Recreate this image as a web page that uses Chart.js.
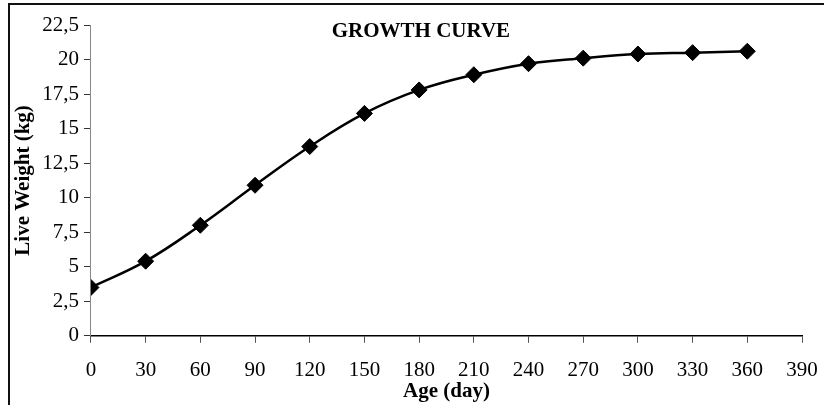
<!DOCTYPE html>
<html>
<head>
<meta charset="utf-8">
<script src="https://cdn.jsdelivr.net/npm/chart.js@4.4.1/dist/chart.umd.min.js"></script>
<style>
  html, body { margin: 0; padding: 0; background: #fff; overflow: hidden; }
  #wrap { position: relative; width: 824px; height: 405px; overflow: hidden; }
  #frame { position: absolute; left: 8px; top: 3px; width: 900px; height: 600px;
           border-top: 2px solid #111; border-left: 2px solid #111; }
  #myChart { position: absolute; left: 0; top: 0; }
</style>
</head>
<body>
<div id="wrap">
  <div id="frame"></div>
  <canvas id="myChart" width="824" height="405"></canvas>
</div>
<script>
// age in days and live weight in kg
var ages = [0, 30, 60, 90, 120, 150, 180, 210, 240, 270, 300, 330, 360];
var weights = [3.5, 5.4, 8.0, 10.9, 13.7, 16.1, 17.8, 18.9, 19.7, 20.1, 20.4, 20.5, 20.6];

var chartTitle = 'GROWTH CURVE';
var xTitle = 'Age (day)';
var yTitle = 'Live Weight (kg)';

var serif = "'Liberation Serif', 'Times New Roman', serif";

// title sits inside the plot, not above it
var titlePlugin = {
  id: 'innerTitle',
  afterDraw: function(chart) {
    var ctx = chart.ctx;
    var xs = chart.scales.x;
    ctx.save();
    ctx.font = 'bold 21px ' + serif;
    ctx.fillStyle = '#000';
    ctx.textAlign = 'center';
    ctx.textBaseline = 'middle';
    ctx.fillText(chartTitle, xs.getPixelForValue(181), chart.chartArea.top + 7);
    ctx.restore();
  }
};

new Chart('myChart', {
  type: 'line',
  data: {
    datasets: [{
      data: ages.map(function(a, i) { return { x: a, y: weights[i] }; }),
      borderColor: '#000',
      borderWidth: 2.5,
      tension: 0.4,
      fill: false,
      pointStyle: 'rectRot',
      pointRadius: 8,
      pointBackgroundColor: '#000',
      pointBorderColor: '#000',
      pointBorderWidth: 1
    }]
  },
  options: {
    responsive: false,
    animation: false,
    layout: { padding: { left: 7, top: 25, right: 22, bottom: 3 } },
    plugins: {
      legend: { display: false },
      tooltip: { enabled: false }
    },
    scales: {
      x: {
        type: 'linear',
        min: 0,
        max: 390,
        afterFit: function(scale) { scale.paddingRight = 0; },
        ticks: { stepSize: 30, color: '#000', padding: 15, maxRotation: 0,
                 font: { family: serif, size: 21 } },
        grid: { drawOnChartArea: false, tickLength: 7, tickColor: '#555' },
        border: { color: '#000', width: 1.5 },
        title: { display: true, text: xTitle, color: '#000', padding: { top: -17, bottom: 0 },
                 font: { family: serif, size: 21, weight: 'bold', lineHeight: 1.0 } }
      },
      y: {
        min: 0,
        max: 22.5,
        ticks: {
          stepSize: 2.5, color: '#000', padding: 5,
          font: { family: serif, size: 21 },
          callback: function(v) { return String(v).replace('.', ','); }
        },
        grid: { drawOnChartArea: false, tickLength: 7, tickColor: '#333' },
        border: { color: '#888', width: 1 },
        title: { display: true, text: yTitle, color: '#000', padding: { top: 4, bottom: 1 },
                 font: { family: serif, size: 21, weight: 'bold' } }
      }
    }
  },
  plugins: [titlePlugin]
});
</script>
</body>
</html>
